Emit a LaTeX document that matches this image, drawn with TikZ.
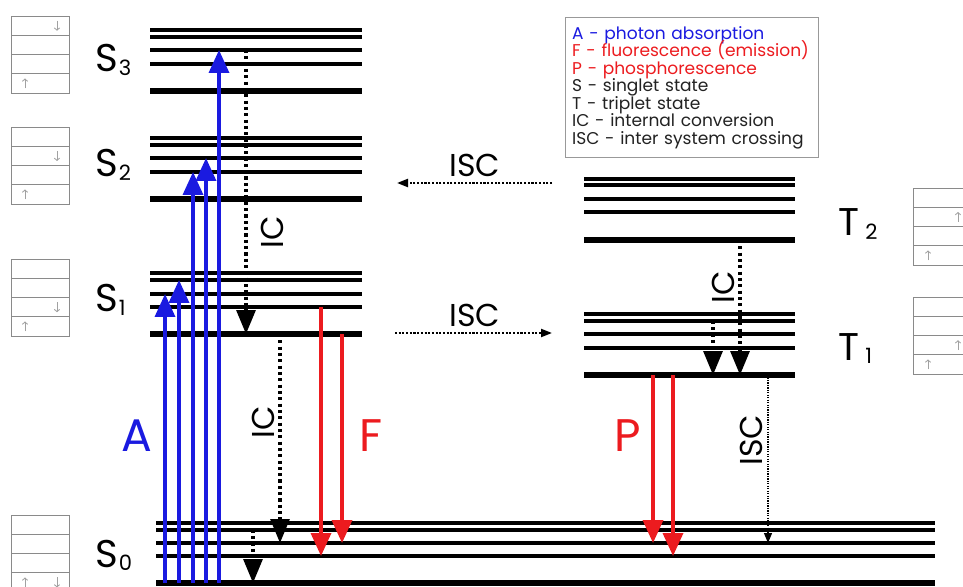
\documentclass[tikz,border=0pt]{standalone}
\usepackage{fontspec}
\setmainfont{Poppins}
\usetikzlibrary{arrows.meta,calc}
\definecolor{AbsBlue}{HTML}{1A1AE0}
\definecolor{EmRed}{HTML}{EC1B1F}
\definecolor{BoxGray}{HTML}{8A8A8A}
\definecolor{Ink}{HTML}{222222}

% one band: name, left x, right x, thin levels, thick level
\newcommand{\levelset}[5]{%
  \foreach \y [count=\i] in {#4} {
    \coordinate (#1-\i) at (#2,\y);
    \draw[thinlvl] (#1-\i) -- (#3,\y);
  }
  \coordinate (#1-0) at (#2,#5);
  \draw[thicklvl] (#1-0) -- (#3,#5);
}
\newcommand{\spinup}[3]{\draw[spin] ([xshift=#2,yshift={-#3*0.385cm+0.09cm}]#1.north west) -- ++(0,0.2cm);}
\newcommand{\spindown}[3]{\draw[spin] ([xshift=#2,yshift={-#3*0.385cm+0.29cm}]#1.north west) -- ++(0,-0.2cm);}
\newcommand{\sub}[1]{\hspace{0.5pt}{\fontsize{12}{12}\selectfont\raisebox{-0.15em}{#1}}}

\begin{document}
\begin{tikzpicture}[x=0.02cm,y=-0.02cm,
    thinlvl/.style={line width=2pt},
    thicklvl/.style={line width=3.8pt},
    absarrow/.style={AbsBlue,line width=2pt,-{Triangle[length=0.46cm,width=0.4cm]}},
    emarrow/.style={EmRed,line width=2pt,-{Triangle[length=0.46cm,width=0.4cm]}},
    icarrow/.style={line width=1.8pt,dash pattern=on 1.8pt off 1.8pt,-{Triangle[length=0.48cm,width=0.38cm]}},
    iscarrow/.style={line width=1.2pt,dash pattern=on 1.2pt off 0.9pt,-{Triangle[length=0.22cm,width=0.16cm]}},
    iscthin/.style={line width=0.7pt,dash pattern=on 0.7pt off 0.7pt,-{Triangle[length=0.2cm,width=0.16cm]}},
    orbbox/.style={draw=BoxGray,line width=0.7pt,anchor=north west,minimum width=1.16cm,minimum height=1.54cm,inner sep=0},
    orbline/.style={BoxGray,line width=0.7pt},
    spin/.style={BoxGray!80,line width=0.5pt,-{Straight Barb[length=1.3pt,width=3pt]}},
    lvlname/.style={anchor=base west,inner sep=0,font=\fontsize{22}{22}\selectfont},
    bigtag/.style={inner sep=0,font=\fontsize{26}{26}\selectfont},
    proctag/.style={inner sep=0,font=\fontsize{18}{18}\selectfont},
    legend/.style={draw=gray!80,line width=0.8pt,anchor=north west,text width=4.8cm,
      minimum height=2.8cm,inner xsep=0.13cm,align=left,text=Ink,
      font=\fontsize{9.7}{9.93}\selectfont}]
  \clip (0,0) rectangle (963,587);

  \levelset{S3}{150}{362}{30,37,50,64}{91}
  \levelset{S2}{150}{362}{138,145,158,172}{199}
  \levelset{S1}{150}{362}{273,280,294,307}{334}
  \levelset{S0}{156}{935}{523,530,543,556}{583}
  \levelset{T2}{584}{795}{179,185,199,212}{240}
  \levelset{T1}{584}{795}{314,321,334,348}{375}

  \node[lvlname] (nS3) at (95,72) {S\sub{3}};
  \node[lvlname] (nS2) at (95,177) {S\sub{2}};
  \node[lvlname] (nS1) at (95,312) {S\sub{1}};
  \node[lvlname] (nS0) at (95,567) {S\sub{0}};
  \node[lvlname] (nT2) at (838,236) {T\hspace{3pt}\sub{2}};
  \node[lvlname] (nT1) at (838,360) {T\hspace{3pt}\sub{1}};

  \foreach \n/\x in {A1/165,A2/179,A3/193,A4/206,A5/219,ICa/246,ICb/280,ICc/253,
      F1/321,F2/342,P1/653,P2/673,ICd/740,ICe/713,ISCv/768}
    \coordinate (c\n) at (\x,0);

  \draw[absarrow] (cA1 |- S0-0) -- (cA1 |- S1-3);
  \draw[absarrow] (cA2 |- S0-0) -- (cA2 |- S1-2);
  \draw[absarrow] (cA3 |- S0-0) -- (cA3 |- S2-4);
  \draw[absarrow] (cA4 |- S0-0) -- (cA4 |- S2-3);
  \draw[absarrow] (cA5 |- S0-0) -- (cA5 |- S3-3);

  \draw[icarrow] (cICa |- S3-3) -- (cICa |- S1-0);
  \draw[icarrow] (cICb |- S1-0) -- (cICb |- S0-3);
  \draw[icarrow] (cICc |- S0-2) -- (cICc |- S0-0);
  \draw[icarrow] (cICd |- T2-0) -- (cICd |- T1-0);
  \draw[icarrow] (cICe |- T1-2) -- (cICe |- T1-0);

  \draw[emarrow] (cF1 |- S1-4) -- (cF1 |- S0-4);
  \draw[emarrow] (cF2 |- S1-0) -- (cF2 |- S0-3);
  \draw[emarrow] (cP1 |- T1-0) -- (cP1 |- S0-3);
  \draw[emarrow] (cP2 |- T1-0) -- (cP2 |- S0-4);
  \draw[iscthin] (cISCv |- T1-0) -- (cISCv |- S0-3);

  \coordinate (iscR0) at (395,333);
  \coordinate (iscR1) at (552,333);
  \coordinate (iscL0) at (552,183);
  \coordinate (iscL1) at (397,183);
  \draw[iscarrow] (iscR0) -- (iscR1);
  \draw[iscarrow] (iscL0) -- (iscL1);

  \node[bigtag,AbsBlue] (tagA) at (137,436) {A};
  \node[bigtag,EmRed] (tagF) at (371,436) {F};
  \node[bigtag,EmRed] (tagP) at (628,436) {P};
  \node[proctag,rotate=90] (tagIC1) at (272,232) {IC};
  \node[proctag,rotate=90] (tagIC2) at (263,422) {IC};
  \node[proctag,rotate=90] (tagIC3) at (723,287) {IC};
  \node[proctag,rotate=90] (tagISC3) at (751,440) {ISC};
  \node[proctag] (tagISC1) at (475,165) {ISC};
  \node[proctag] (tagISC2) at (475,315) {ISC};

  \node[legend] (legend) at (565,17) {\setlength{\lineskiplimit}{-10pt}%
    {\color{AbsBlue}A - photon absorption}\\
    {\color{EmRed}F - fluorescence (emission)}\\
    {\color{EmRed}P - phosphorescence}\\
    S - singlet state\\
    T - triplet state\\
    IC - internal conversion\\
    ISC - inter system crossing};

  \node[orbbox] (bS3) at (11,16) {};
  \node[orbbox] (bS2) at (11,127) {};
  \node[orbbox] (bS1) at (11,259) {};
  \node[orbbox] (bS0) at (11,515) {};
  \node[orbbox] (bT2) at (913,188) {};
  \node[orbbox] (bT1) at (913,297) {};
  \foreach \b in {bS3,bS2,bS1,bS0,bT2,bT1}
    \foreach \k in {1,2,3}
      \draw[orbline] ([yshift=-\k*0.385cm]\b.north west) -- ([yshift=-\k*0.385cm]\b.north east);
  \spindown{bS3}{0.92cm}{1} \spinup{bS3}{0.28cm}{4}
  \spindown{bS2}{0.92cm}{2} \spinup{bS2}{0.28cm}{4}
  \spindown{bS1}{0.92cm}{3} \spinup{bS1}{0.28cm}{4}
  \spinup{bS0}{0.28cm}{4} \spindown{bS0}{0.92cm}{4}
  \spinup{bT2}{0.9cm}{2} \spinup{bT2}{0.3cm}{4}
  \spinup{bT1}{0.9cm}{3} \spinup{bT1}{0.3cm}{4}
\end{tikzpicture}
\end{document}
